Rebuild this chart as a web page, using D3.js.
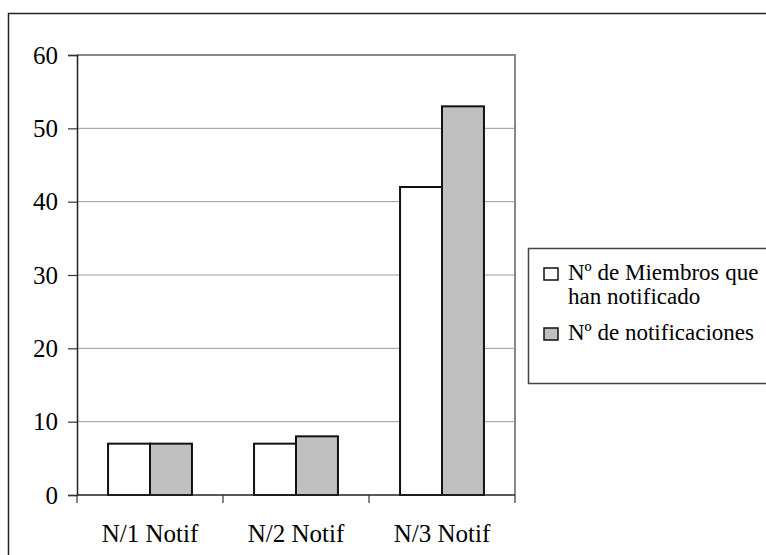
<!DOCTYPE html>
<html>
<head>
<meta charset="utf-8">
<script src="https://cdn.jsdelivr.net/npm/d3@7"></script>
<style>
  html, body { margin: 0; padding: 0; background: #fff; }
  svg { display: block; }
  svg text { font-family: "Liberation Serif", serif; }
</style>
</head>
<body>
<div id="chart"></div>
<script>
// Data
const categories = ['N/1 Notif', 'N/2 Notif', 'N/3 Notif'];
const seriesNames = ['miembros', 'notificaciones'];
const miembros = [7, 7, 42];
const notificaciones = [7, 8, 53];
const legendLabels = [['Nº de Miembros que', 'han notificado'], ['Nº de notificaciones']];
const yTicks = [0, 10, 20, 30, 40, 50, 60];

const width = 766;
const height = 555;
const plot = { left: 77, right: 515, top: 55, bottom: 495 };
const fills = ['#ffffff', '#c0c0c0'];

const svg = d3.select('#chart')
    .append('svg')
    .attr('width', width)
    .attr('height', height);

// outer frame (runs off the right and bottom edges)
svg.append('rect')
    .attr('x', 8.5).attr('y', 13.5)
    .attr('width', 800).attr('height', 600)
    .attr('fill', 'none')
    .attr('stroke', '#222')
    .attr('stroke-width', 1.5);

const x0 = d3.scaleBand()
    .domain(categories)
    .range([plot.left, plot.right]);

const x1 = d3.scaleBand()
    .domain(seriesNames)
    .range([0, x0.bandwidth()])
    .paddingOuter(0.74);

const y = d3.scaleLinear()
    .domain([0, 60])
    .range([plot.bottom, plot.top]);

// gridlines
svg.append('g')
    .selectAll('line')
    .data(yTicks.filter(d => d > 0))
    .join('line')
    .attr('x1', plot.left).attr('x2', plot.right)
    .attr('y1', d => y(d)).attr('y2', d => y(d))
    .attr('stroke', '#999')
    .attr('stroke-width', 1);

// plot border top/right
svg.append('path')
    .attr('d', `M${plot.left},${plot.top}H${plot.right}V${plot.bottom}`)
    .attr('fill', 'none')
    .attr('stroke', '#888')
    .attr('stroke-width', 2);

// bars
const rows = categories.map((c, i) => ({ cat: c, values: [miembros[i], notificaciones[i]] }));

const groups = svg.append('g')
    .selectAll('g')
    .data(rows)
    .join('g')
    .attr('transform', d => `translate(${x0(d.cat)},0)`);

groups.selectAll('rect')
    .data(d => d.values.map((v, j) => ({ key: seriesNames[j], value: v, j })))
    .join('rect')
    .attr('x', d => x1(d.key))
    .attr('width', x1.bandwidth())
    .attr('y', d => y(d.value))
    .attr('height', d => y(0) - y(d.value))
    .attr('fill', d => fills[d.j])
    .attr('stroke', '#111')
    .attr('stroke-width', 2);

// y axis
const yAxis = d3.axisLeft(y)
    .tickValues(yTicks)
    .tickSize(9)
    .tickPadding(10)
    .tickFormat(d3.format('d'));

const gy = svg.append('g')
    .attr('transform', `translate(${plot.left},0)`)
    .call(yAxis)
    .attr('font-size', 25);
gy.select('.domain').attr('stroke', '#222').attr('stroke-width', 1.5);
gy.selectAll('.tick line').attr('stroke', '#333').attr('stroke-width', 1.2);
gy.selectAll('text').attr('fill', '#000');

// x axis: baseline, tick marks at band boundaries, labels
svg.append('line')
    .attr('x1', plot.left).attr('x2', plot.right)
    .attr('y1', plot.bottom).attr('y2', plot.bottom)
    .attr('stroke', '#222')
    .attr('stroke-width', 1.5);

const boundaries = categories.map(c => x0(c)).concat([x0.range()[1]]);
svg.append('g')
    .selectAll('line')
    .data(boundaries)
    .join('line')
    .attr('x1', d => d).attr('x2', d => d)
    .attr('y1', plot.bottom).attr('y2', plot.bottom + 8)
    .attr('stroke', '#333')
    .attr('stroke-width', 1.2);

svg.append('g')
    .selectAll('text')
    .data(categories)
    .join('text')
    .attr('x', d => x0(d) + x0.bandwidth() / 2)
    .attr('y', 542)
    .attr('text-anchor', 'middle')
    .attr('font-size', 25)
    .text(d => d);

// legend
const legend = svg.append('g');
legend.append('rect')
    .attr('x', 528.5).attr('y', 248.5)
    .attr('width', 300).attr('height', 135)
    .attr('fill', '#fff')
    .attr('stroke', '#444')
    .attr('stroke-width', 1.5);

const legendY = [280, 340];
legendLabels.forEach((lines, i) => {
    legend.append('rect')
        .attr('x', 544).attr('y', legendY[i] - 12)
        .attr('width', 14).attr('height', 12)
        .attr('fill', fills[i])
        .attr('stroke', '#111')
        .attr('stroke-width', 1.5);
    const t = legend.append('text')
        .attr('x', 568)
        .attr('y', legendY[i])
        .attr('font-size', 23);
    lines.forEach((ln, k) => {
        t.append('tspan')
            .attr('x', 568)
            .attr('dy', k === 0 ? 0 : 24)
            .text(ln);
    });
});

// make sure every label uses the serif face
svg.selectAll('text').style('font-family', '"Liberation Serif", serif');
</script>
</body>
</html>
